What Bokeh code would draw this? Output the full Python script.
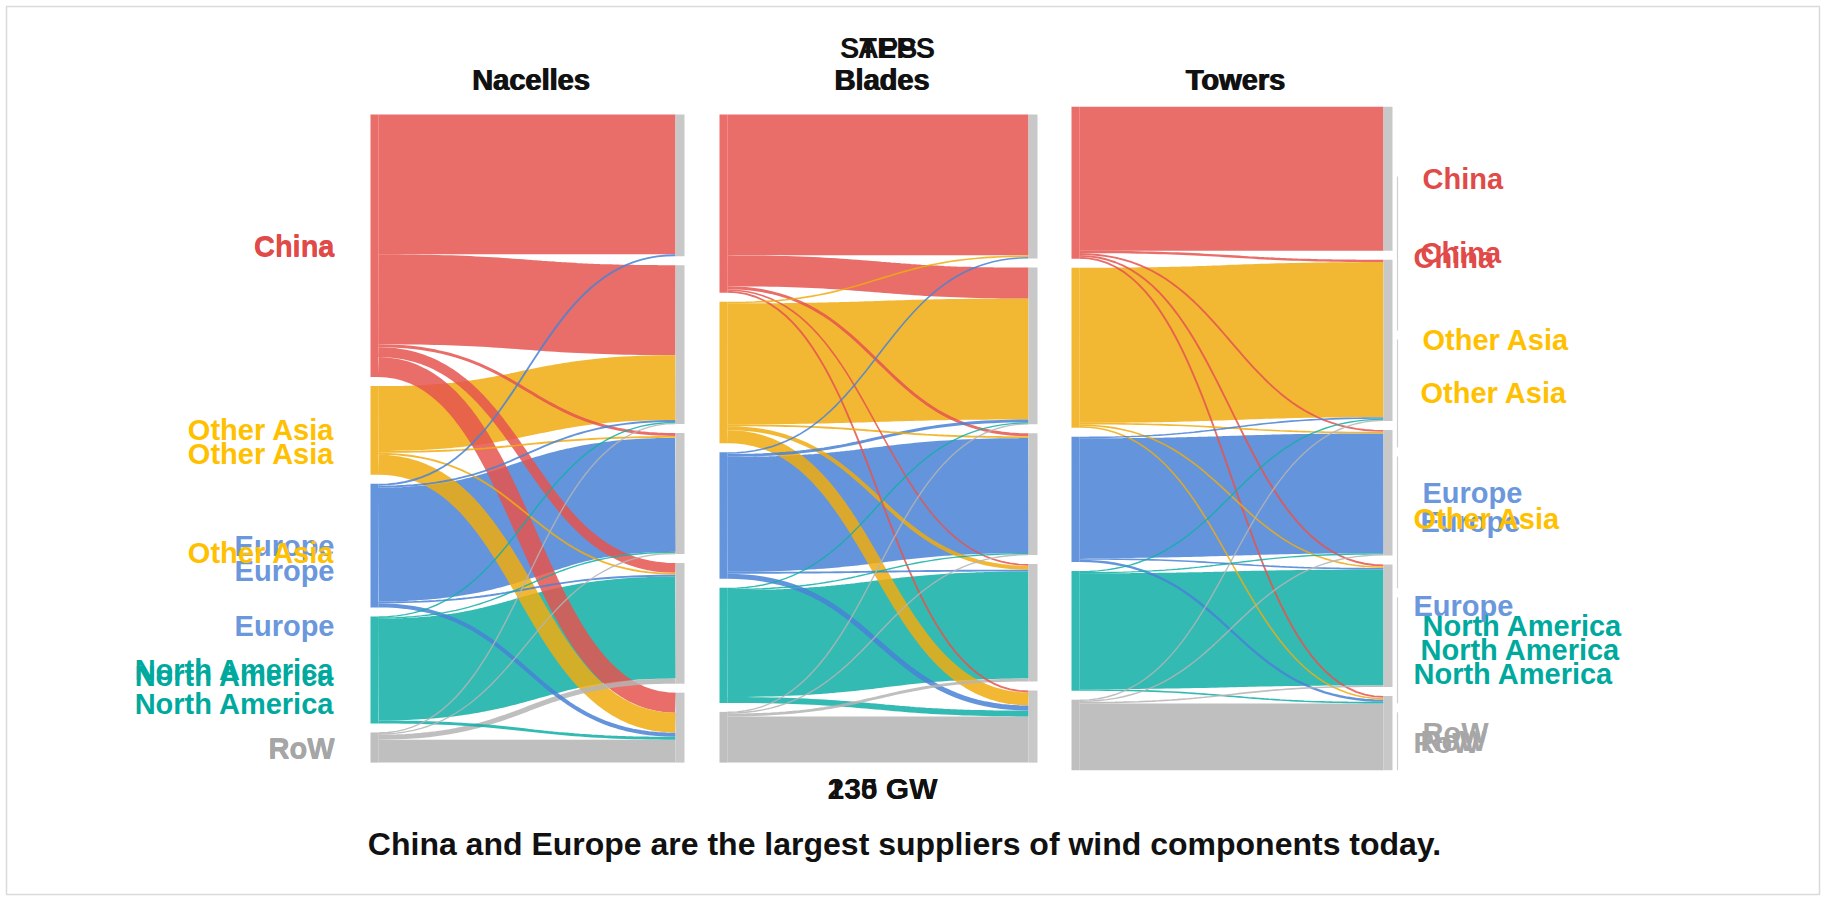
import numpy as np
from bokeh.plotting import figure
from bokeh.models import Range1d, ColumnDataSource
from bokeh.embed import file_html
from bokeh.resources import INLINE
from bokeh.core.properties import value

# ---------------------------------------------------------------- data
REGIONS = ["China", "Other Asia", "Europe", "North America", "RoW"]
COMPONENTS = ["Nacelles", "Blades", "Towers"]

# GW of components made in a region (rows) and shipped to a region (columns),
# both in REGIONS order
NACELLES = [
    [52.4, 33.7, 1.1, 3.7, 7.5],
    [0.0, 24.3, 0.7, 0.7, 7.5],
    [0.7, 0.7, 42.7, 0.7, 1.5],
    [0.0, 0.4, 0.4, 38.2, 1.1],
    [0.0, 0.4, 0.4, 1.9, 8.6],
]
BLADES = [
    [52.8, 11.6, 1.1, 0.6, 0.7],
    [0.6, 45.3, 0.7, 1.5, 4.9],
    [0.6, 1.1, 43.1, 0.7, 1.9],
    [0.0, 0.4, 0.4, 40.1, 2.2],
    [0.0, 0.3, 0.3, 1.1, 17.3],
]
TOWERS = [
    [53.9, 0.9, 0.7, 0.7, 0.7],
    [0.0, 58.1, 0.6, 0.6, 0.6],
    [0.0, 0.6, 44.9, 0.6, 0.9],
    [0.0, 0.4, 0.4, 43.4, 0.6],
    [0.0, 0.4, 0.4, 0.6, 25.0],
]
FLOWS = [NACELLES, BLADES, TOWERS]

# regional totals (GW) of the scenario states that are fading in and out
SUPPLY_STATE_B = [100.0, 47.9, 33.7, 37.5, 10.5]
SUPPLY_STATE_C_REGIONS = ["Other Asia", "Europe", "North America", "RoW"]
SUPPLY_STATE_C = [13.5, 34.5, 16.5, 10.5]
DEMAND_STATE_B = [57.7, 40.4, 49.4, 39.7, 21.7]
DEMAND_STATE_C = [149.8, 39.0, 19.5, 24.7, 20.2]

SCENARIO_TAGS = ["STEPS", "APS"]
CAPACITY_TAGS = ["230 GW", "135 GW"]
CAPTION = "China and Europe are the largest suppliers of wind components today."

# ---------------------------------------------------------------- style
FLOW_COLORS = ["#E5534E", "#F0AB0F", "#4983D6", "#0FAFA6", "#B4B4B4"]
LABEL_COLORS = ["#E04A48", "#FFC000", "#6B97DD", "#00A99D", "#A6A6A6"]
NODE_GRAY = "#C8C8C8"
FONT = value("Liberation Sans")

W, H = 1825, 898
PX_PER_GW = 2.67
CENTER_PX = 438          # vertical centre of the three columns
GAP = 9 / PX_PER_GW      # space between nodes, GW
PANELS = [(370, 684), (719, 1037), (1071, 1392)]
NODE_W = 8
BAR_W = 9


def py(px):
    """screen row (px from top) -> GW coordinate of the plot"""
    return (px - CENTER_PX) / PX_PER_GW


p = figure(width=W, height=H, output_backend="svg", toolbar_location=None,
           x_range=Range1d(0, W),
           y_range=Range1d(start=(H - CENTER_PX) / PX_PER_GW, end=-CENTER_PX / PX_PER_GW),
           x_axis_location=None, y_axis_location=None, min_border=0)
p.xgrid.visible = False
p.ygrid.visible = False
p.outline_line_color = None
p.background_fill_color = "white"
p.border_fill_color = "white"

# frame round the whole graphic
p.quad(left=[6], right=[W - 6], top=[py(6)], bottom=[py(H - 4)],
       fill_color=None, line_color="#DADADA", line_width=1.5)


def stack(totals, top):
    tops, y = [], top
    for t in totals:
        tops.append(y)
        y += t + GAP
    return tops


def stacked_from_bottom(values, bottom):
    centers, y = [], bottom
    for v in reversed(values):
        centers.append(y - v / 2)
        y -= v + GAP
    return centers[::-1]


t = np.linspace(0, 1, 48)
layouts = []
for k, matrix in enumerate(FLOWS):
    m = np.array(matrix, dtype=float)
    n = len(REGIONS)
    src_tot, dst_tot, total = m.sum(1), m.sum(0), m.sum()
    top = -(total + GAP * (n - 1)) / 2
    src_top, dst_top = stack(src_tot, top), stack(dst_tot, top)
    left, right = PANELS[k]
    x0, x1 = left + NODE_W, right - BAR_W
    xm = (x0 + x1) / 2
    bx = (1 - t) ** 3 * x0 + 3 * (1 - t) ** 2 * t * xm + 3 * (1 - t) * t ** 2 * xm + t ** 3 * x1
    ease = 3 * t ** 2 - 2 * t ** 3

    so, do = list(src_top), list(dst_top)
    links = []
    for i in range(n):
        for j in range(n):
            v = m[i, j]
            if v <= 0:
                continue
            y0 = so[i] + v / 2
            y1 = do[j] + v / 2
            so[i] += v
            do[j] += v
            links.append((v, i, list(bx), list(y0 + (y1 - y0) * ease)))
    links.sort(key=lambda r: -r[0])
    src = ColumnDataSource(dict(
        xs=[r[2] for r in links], ys=[r[3] for r in links],
        color=[FLOW_COLORS[r[1]] for r in links],
        w=[max(r[0] * PX_PER_GW, 1.4) for r in links]))
    p.multi_line(xs="xs", ys="ys", line_color="color", line_width="w",
                 line_alpha=0.85, line_cap="butt", source=src)

    # producing-region nodes, coloured
    p.quad(left=[left] * n, right=[left + NODE_W] * n,
           top=src_top, bottom=[a + b for a, b in zip(src_top, src_tot)],
           fill_color=FLOW_COLORS, fill_alpha=0.85, line_color=None)
    # destination nodes, grey
    p.quad(left=[right - BAR_W] * n, right=[right] * n,
           top=dst_top, bottom=[a + b for a, b in zip(dst_top, dst_tot)],
           fill_color=NODE_GRAY, line_color=None)
    layouts.append(dict(src_top=src_top, src_tot=src_tot, dst_top=dst_top,
                        dst_tot=dst_tot, bottom=top + total + GAP * (n - 1)))

    # component title
    cx = (left + right) / 2 + 3
    p.text(x=[cx, cx + 1.2], y=[py(79)] * 2, text=[COMPONENTS[k]] * 2,
           text_font=FONT, text_font_style="bold", text_font_size="29px",
           text_color="#111111", text_align="center", text_baseline="middle")

# ---------------------------------------------------------------- region labels
first, last = layouts[0], layouts[-1]
label_font = dict(text_font=FONT, text_font_style="bold", text_font_size="29px",
                  text_baseline="middle")

# supply side (left of the first column)
sup_y = [a + b / 2 for a, b in zip(first["src_top"], first["src_tot"])]
sup_y += stacked_from_bottom(SUPPLY_STATE_B, first["bottom"])
sup_y += stacked_from_bottom(SUPPLY_STATE_C, first["bottom"])
sup_txt = REGIONS + REGIONS + SUPPLY_STATE_C_REGIONS
sup_col = LABEL_COLORS + LABEL_COLORS + [LABEL_COLORS[REGIONS.index(r)] for r in SUPPLY_STATE_C_REGIONS]
p.text(x=[334] * len(sup_y), y=sup_y, text=sup_txt, text_color=sup_col,
       text_align="right", **label_font)

# demand side (right of the last column)
dem_y = [a + b / 2 for a, b in zip(last["dst_top"], last["dst_tot"])]
dem_x = [1422] * len(REGIONS)
dem_y += stacked_from_bottom(DEMAND_STATE_B, last["bottom"])
dem_x += [1420] * len(REGIONS)
dem_y += stacked_from_bottom(DEMAND_STATE_C, last["bottom"])
dem_x += [1413] * len(REGIONS)
p.text(x=dem_x, y=dem_y, text=REGIONS * 3, text_color=LABEL_COLORS * 3,
       text_align="left", **label_font)

# outline of the fading demand column
b_centers = stacked_from_bottom(DEMAND_STATE_B, last["bottom"])
seg_x = [[1397, 1397] for _ in REGIONS]
seg_y = [[c - v / 2, c + v / 2] for c, v in zip(b_centers, DEMAND_STATE_B)]
p.multi_line(xs=seg_x, ys=seg_y, line_color="#CFCFCF", line_width=1.2)

# ---------------------------------------------------------------- headings
n_tags = len(SCENARIO_TAGS)
p.text(x=[887] * n_tags, y=[py(47)] * n_tags, text=SCENARIO_TAGS,
       text_font=FONT, text_font_style="bold", text_font_size="29px", text_color="#111111",
       text_align="center", text_baseline="middle")
p.text(x=[882] * len(CAPACITY_TAGS), y=[py(788)] * len(CAPACITY_TAGS), text=CAPACITY_TAGS,
       text_font=FONT, text_font_style="bold", text_font_size="30px", text_color="#111111",
       text_align="center", text_baseline="middle")
p.text(x=[904], y=[py(843)], text=[CAPTION],
       text_font=FONT, text_font_style="bold", text_font_size="32px", text_color="#111111",
       text_align="center", text_baseline="middle")

open("out.html", "w").write(file_html(p, INLINE))
